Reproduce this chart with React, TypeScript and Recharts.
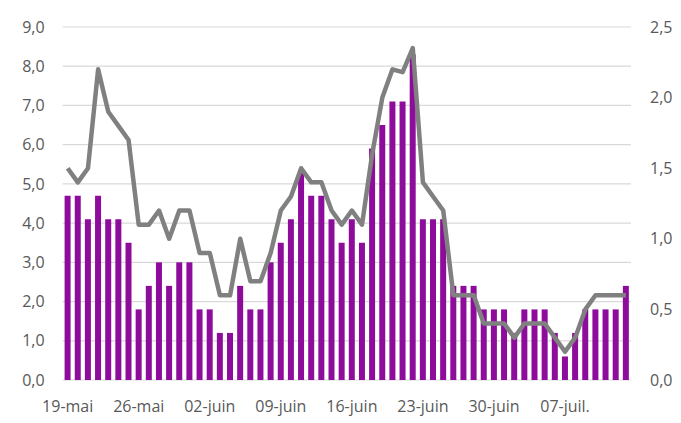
import React from "react";
import {
  Bar,
  CartesianGrid,
  ComposedChart,
  Line,
  XAxis,
  YAxis,
} from "recharts";

const days = [
  "19-mai", "20-mai", "21-mai", "22-mai", "23-mai", "24-mai", "25-mai",
  "26-mai", "27-mai", "28-mai", "29-mai", "30-mai", "31-mai", "01-juin",
  "02-juin", "03-juin", "04-juin", "05-juin", "06-juin", "07-juin", "08-juin",
  "09-juin", "10-juin", "11-juin", "12-juin", "13-juin", "14-juin", "15-juin",
  "16-juin", "17-juin", "18-juin", "19-juin", "20-juin", "21-juin", "22-juin",
  "23-juin", "24-juin", "25-juin", "26-juin", "27-juin", "28-juin", "29-juin",
  "30-juin", "01-juil.", "02-juil.", "03-juil.", "04-juil.", "05-juil.", "06-juil.",
  "07-juil.", "08-juil.", "09-juil.", "10-juil.", "11-juil.", "12-juil.", "13-juil.",
];

// purple bars, left axis
const barValues = [
  4.7, 4.7, 4.1, 4.7, 4.1, 4.1, 3.5, 1.8, 2.4, 3.0,
  2.4, 3.0, 3.0, 1.8, 1.8, 1.2, 1.2, 2.4, 1.8, 1.8,
  3.0, 3.5, 4.1, 5.3, 4.7, 4.7, 4.1, 3.5, 4.1, 3.5,
  5.9, 6.5, 7.1, 7.1, 8.3, 4.1, 4.1, 4.1, 2.4, 2.4,
  2.4, 1.8, 1.8, 1.8, 1.2, 1.8, 1.8, 1.8, 1.2, 0.6,
  1.2, 1.8, 1.8, 1.8, 1.8, 2.4,
];

// grey line, right axis
const lineValues = [
  1.5, 1.4, 1.5, 2.2, 1.9, 1.8, 1.7, 1.1, 1.1, 1.2,
  1.0, 1.2, 1.2, 0.9, 0.9, 0.6, 0.6, 1.0, 0.7, 0.7,
  0.9, 1.2, 1.3, 1.5, 1.4, 1.4, 1.2, 1.1, 1.2, 1.1,
  1.6, 2.0, 2.2, 2.18, 2.35, 1.4, 1.3, 1.2, 0.6, 0.6,
  0.6, 0.4, 0.4, 0.4, 0.3, 0.4, 0.4, 0.4, 0.3, 0.2,
  0.3, 0.5, 0.6, 0.6, 0.6, 0.6,
];

const leftTicks = [0, 1, 2, 3, 4, 5, 6, 7, 8, 9];
const rightTicks = [0, 0.5, 1, 1.5, 2, 2.5];

const data = days.map((day, i) => ({
  day,
  bar: barValues[i],
  line: lineValues[i],
}));

const fmt = (v: number) => v.toFixed(1).replace(".", ",");
const tickStyle = { fill: "#595959", fontSize: 16, fontFamily: "Open Sans" };

export default function App() {
  return (
    <div style={{ position: "absolute", left: 0, top: 0 }}>
      <ComposedChart
        width={681}
        height={423}
        data={data}
        margin={{ top: 27, right: 0, bottom: 0, left: 0 }}
      >
        <CartesianGrid
          yAxisId="left"
          vertical={false}
          stroke="#d9d9d9"
          strokeWidth={1.2}
        />
        <XAxis
          dataKey="day"
          interval={6}
          axisLine={false}
          tickLine={false}
          tickMargin={15}
          height={43}
          tick={tickStyle}
        />
        <YAxis
          yAxisId="left"
          domain={[0, 9]}
          ticks={leftTicks}
          tickFormatter={fmt}
          axisLine={false}
          tickLine={false}
          tickMargin={12}
          width={62.6}
          tick={tickStyle}
        />
        <YAxis
          yAxisId="right"
          orientation="right"
          domain={[0, 2.5]}
          ticks={rightTicks}
          tickFormatter={fmt}
          axisLine={false}
          tickLine={false}
          tickMargin={13}
          width={50}
          tick={{ ...tickStyle, textAnchor: "start" }}
        />
        <Bar
          yAxisId="left"
          dataKey="bar"
          fill="#8e0c9c"
          barSize={6}
          isAnimationActive={false}
        />
        <Line
          yAxisId="right"
          dataKey="line"
          type="linear"
          stroke="#808080"
          strokeWidth={4.5}
          strokeLinejoin="round"
          dot={false}
          activeDot={false}
          isAnimationActive={false}
        />
      </ComposedChart>
    </div>
  );
}
